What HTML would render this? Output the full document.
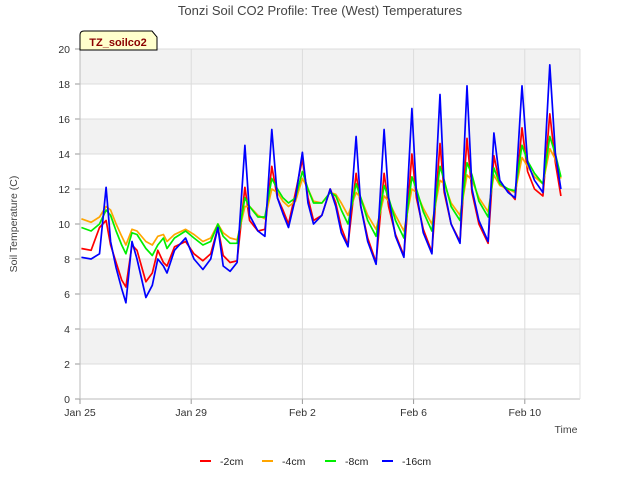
<!DOCTYPE html>
<html><head><meta charset="utf-8"><style>
body{margin:0;background:#fff;font-family:"Liberation Sans","DejaVu Sans",sans-serif;}
</style></head><body>
<svg id="chart" width="640" height="480" xmlns="http://www.w3.org/2000/svg" font-family="Liberation Sans, DejaVu Sans, sans-serif">
<text x="320" y="15" text-anchor="middle" font-size="13" fill="#444">Tonzi Soil CO2 Profile: Tree (West) Temperatures</text>
<g id="bands"></g>
<g id="grid"></g>
<g id="axes"></g>
<g id="series"></g>
<text transform="translate(17,224) rotate(-90)" text-anchor="middle" font-size="10.5" fill="#444">Soil Temperature (C)</text>
<text x="566" y="433" text-anchor="middle" font-size="10.5" fill="#444">Time</text>
<g>
<path d="M80,50 L80,35 Q80,31 84,31 L152,31 L157,37 L157,50 Z" fill="#ffffcc" stroke="#000" stroke-width="1"/>
<text x="118" y="46" text-anchor="middle" font-size="11" font-weight="bold" fill="#8b0000">TZ_soilco2</text>
</g>
<g id="legend"></g>
</svg>
<script>
const yTicks=[0,2,4,6,8,10,12,14,16,18,20];
const xTickDays=[0,4,8,12,16];
const xTickLabels=["Jan 25","Jan 29","Feb 2","Feb 6","Feb 10"];
const seriesNames=["-2cm","-4cm","-8cm","-16cm"];
const seriesColors=["#ff0000","#ffa500","#00ee00","#0000ff"];
const times=[0.05,0.4,0.7,0.94,1.1,1.3,1.5,1.65,1.87,2.05,2.37,2.6,2.8,3.0,3.13,3.4,3.8,4.1,4.42,4.7,4.96,5.15,5.4,5.65,5.93,6.1,6.4,6.65,6.9,7.1,7.3,7.5,7.75,8.0,8.2,8.4,8.7,9.0,9.2,9.4,9.64,9.93,10.1,10.35,10.65,10.94,11.1,11.35,11.65,11.94,12.1,12.35,12.66,12.95,13.1,13.35,13.67,13.92,14.1,14.35,14.68,14.89,15.1,15.4,15.65,15.9,16.1,16.35,16.65,16.9,17.1,17.3];
const t2cm=[8.6,8.5,9.8,10.2,8.8,7.8,6.8,6.4,8.8,8.5,6.7,7.2,8.5,7.8,7.6,8.7,9.0,8.3,7.9,8.3,9.8,8.2,7.8,7.9,12.1,10.2,9.6,9.7,13.3,11.5,10.8,10.0,11.8,13.7,11.5,10.2,10.5,12.0,11.2,9.8,8.8,12.9,11.0,9.2,7.8,12.9,11.0,9.4,8.2,14.0,11.5,9.7,8.4,14.6,11.8,10.0,9.0,14.9,11.8,10.0,8.9,13.9,12.3,11.9,11.4,15.5,13.0,12.0,11.6,16.3,13.5,11.6];
const t4cm=[10.3,10.1,10.4,11.0,10.8,10.0,9.3,8.8,9.7,9.6,9.0,8.8,9.3,9.4,9.0,9.4,9.7,9.4,9.0,9.2,10.0,9.5,9.2,9.1,11.0,11.0,10.5,10.3,12.0,11.8,11.3,11.0,11.3,12.6,12.0,11.3,11.2,11.8,11.7,11.2,10.5,11.8,11.5,10.5,9.7,11.6,11.3,10.5,9.6,12.0,11.8,10.9,10.0,12.5,12.3,11.2,10.5,12.8,12.5,11.5,10.7,12.8,12.2,12.0,11.8,13.8,13.3,12.7,12.3,14.3,13.7,12.6];
const t8cm=[9.8,9.6,10.0,10.8,10.5,9.6,8.8,8.3,9.5,9.4,8.6,8.2,8.8,9.2,8.6,9.2,9.6,9.2,8.8,9.0,10.0,9.3,8.9,8.9,11.5,11.0,10.4,10.4,12.6,12.0,11.5,11.2,11.5,13.0,12.0,11.2,11.2,11.8,11.6,10.8,10.0,12.3,11.5,10.2,9.3,12.2,11.5,10.2,9.2,12.7,12.0,10.7,9.6,13.3,12.5,11.0,10.2,13.5,12.8,11.3,10.4,13.2,12.3,12.0,11.9,14.5,13.6,12.9,12.3,15.0,14.0,12.7];
const t16cm=[8.1,8.0,8.3,12.1,9.0,7.5,6.3,5.5,9.0,8.0,5.8,6.5,8.0,7.6,7.2,8.5,9.2,8.0,7.4,8.0,9.8,7.6,7.3,7.8,14.5,10.5,9.6,9.3,15.4,11.5,10.6,9.8,11.5,14.1,11.2,10.0,10.5,12.0,11.0,9.5,8.7,15.0,11.0,9.0,7.7,15.4,11.5,9.3,8.1,16.6,11.8,9.5,8.3,17.4,12.0,10.0,8.9,17.9,12.0,10.2,9.0,15.2,12.5,11.8,11.5,17.9,13.5,12.5,11.8,19.1,14.0,12.0];
const allSeries=[t2cm,t4cm,t8cm,t16cm];

const NS="http://www.w3.org/2000/svg";
const X0=80,X1=580,Y0=399,Y1=49;
function xs(d){return X0+d*27.8;}
function ys(v){return Y0-(v/20)*(Y0-Y1);}
function mk(tag,attrs,parent){const e=document.createElementNS(NS,tag);for(const k in attrs)e.setAttribute(k,attrs[k]);parent.appendChild(e);return e;}
const bands=document.getElementById('bands'),grid=document.getElementById('grid'),axes=document.getElementById('axes'),ser=document.getElementById('series'),leg=document.getElementById('legend');
for(let v=2;v<20;v+=4){
 const r=mk('rect',{x:X0,y:ys(v+2),width:X1-X0,height:ys(v)-ys(v+2),fill:'#f2f2f2'},bands);
 
 
}
yTicks.forEach(v=>{
 const l=mk('line',{x1:X0,x2:X1,y1:ys(v),y2:ys(v),stroke:'#dcdcdc','stroke-width':1},grid);
 
 
 const t=mk('text',{x:X0-10,y:ys(v)+4,'text-anchor':'end','font-size':10.5,fill:'#333'},axes);
 t.textContent=v;
 
 
 mk('line',{x1:X0-5,x2:X0,y1:ys(v),y2:ys(v),stroke:'#999'},axes);
});
xTickDays.forEach((d,i)=>{
 const l=mk('line',{x1:xs(d),x2:xs(d),y1:Y1,y2:Y0,stroke:'#dcdcdc'},grid);
 
 
 mk('line',{x1:xs(d),x2:xs(d),y1:Y0,y2:Y0+5,stroke:'#999'},axes);
 const t=mk('text',{x:xs(d),y:Y0+17,'text-anchor':'middle','font-size':10.5,fill:'#333'},axes);
 t.textContent=xTickLabels[i];
 
 
});
mk('line',{x1:X0,x2:X0,y1:Y1,y2:Y0,stroke:'#bbb'},axes);
mk('line',{x1:X0,x2:X1,y1:Y0,y2:Y0,stroke:'#bbb'},axes);
mk('line',{x1:X1,x2:X1,y1:Y1,y2:Y0,stroke:'#e0e0e0'},axes);
allSeries.forEach((vals,si)=>{
 const pts=times.map((d,i)=>xs(d).toFixed(1)+','+ys(vals[i]).toFixed(1)).join(' ');
 const p=mk('polyline',{points:pts,fill:'none',stroke:seriesColors[si],'stroke-width':1.7,'stroke-linejoin':'round'},ser);
 
 
});
const legX=[200,262,325,382];
seriesNames.forEach((n,i)=>{
 const g=mk('g',{},leg);
 
 
 mk('line',{x1:legX[i],x2:legX[i]+11,y1:461,y2:461,stroke:seriesColors[i],'stroke-width':2},g);
 const t=mk('text',{x:legX[i]+20,y:465,'font-size':10.5,fill:'#222'},g);
 t.textContent=n;
});
</script>
</body></html>
